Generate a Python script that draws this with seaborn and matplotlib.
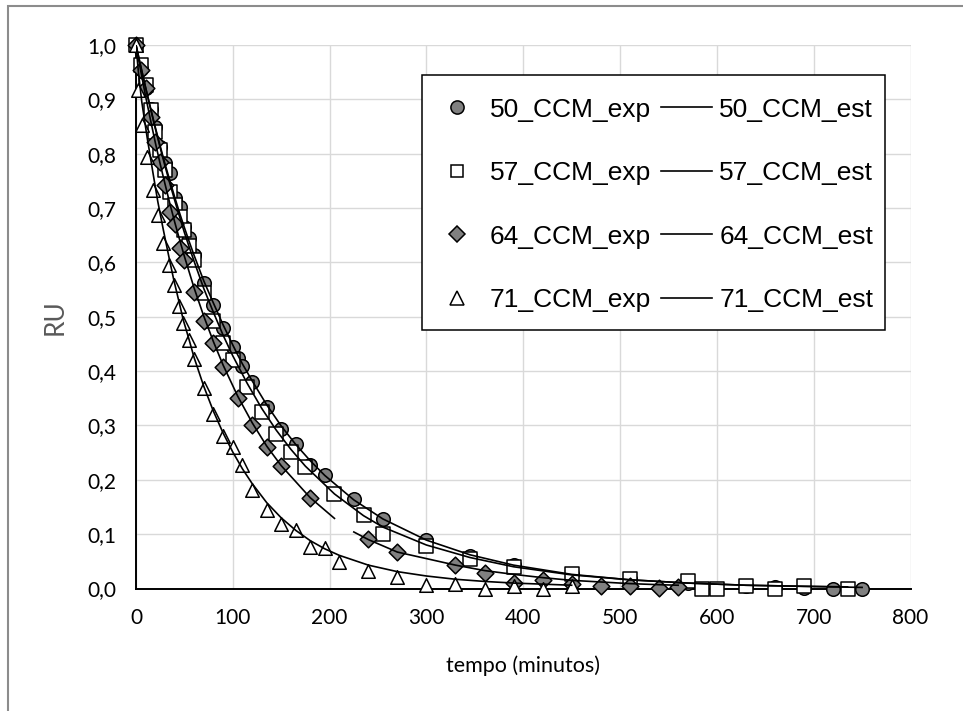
import numpy as np
import pandas as pd
import matplotlib
matplotlib.use("Agg")
import matplotlib.pyplot as plt
import seaborn as sns
from matplotlib.lines import Line2D
from matplotlib.patches import Rectangle

# ---------------- data ----------------
t50 = [0, 5, 10, 15, 20, 25, 30, 35, 40, 45, 50, 55, 60, 70, 80, 90, 100, 105, 110, 120,
       135, 150, 165, 180, 195, 225, 255, 300, 345, 390, 450, 510, 570, 630, 660, 690, 720, 750]
ru50_exp = [1.0, 0.955, 0.92, 0.883, 0.85, 0.813, 0.782, 0.764, 0.718, 0.702, 0.666, 0.644,
            0.613, 0.563, 0.521, 0.479, 0.444, 0.425, 0.409, 0.38, 0.334, 0.293, 0.265, 0.228,
            0.209, 0.164, 0.128, 0.089, 0.06, 0.043, 0.027, 0.017, 0.011, 0.004, 0.002, 0.001,
            0.0, 0.0]
ru50_est = [1.0, 0.96, 0.921, 0.884, 0.848, 0.814, 0.781, 0.75, 0.72, 0.691, 0.664, 0.638,
            0.613, 0.566, 0.525, 0.485, 0.448, 0.43, 0.413, 0.382, 0.338, 0.299, 0.265, 0.235,
            0.208, 0.163, 0.128, 0.089, 0.062, 0.043, 0.026, 0.016, 0.010, 0.006, 0.005, 0.004,
            0.003, 0.002]

t57 = [0, 5, 10, 15, 20, 25, 30, 35, 40, 45, 50, 55, 60, 70, 80, 90, 100, 115, 130, 145, 160,
       175, 205, 235, 255, 300, 345, 390, 450, 510, 570, 585, 600, 630, 660, 690, 735]
ru57_exp = [1.0, 0.963, 0.926, 0.88, 0.84, 0.807, 0.77, 0.73, 0.705, 0.684, 0.66, 0.63, 0.604,
            0.543, 0.493, 0.451, 0.42, 0.371, 0.325, 0.284, 0.251, 0.223, 0.174, 0.135, 0.10,
            0.078, 0.055, 0.04, 0.027, 0.017, 0.014, 0.0, 0.0, 0.004, 0.0, 0.004, 0.0]
ru57_est = [1.0, 0.96, 0.921, 0.883, 0.846, 0.811, 0.777, 0.745, 0.714, 0.684, 0.655, 0.628,
            0.602, 0.552, 0.508, 0.466, 0.428, 0.377, 0.331, 0.291, 0.256, 0.225, 0.174, 0.134,
            0.113, 0.08, 0.057, 0.04, 0.025, 0.016, 0.010, 0.009, 0.008, 0.006, 0.005, 0.004,
            0.003]

t64 = [0, 5, 10, 15, 20, 25, 30, 35, 40, 45, 50, 60, 70, 80, 90, 105, 120, 135, 150, 180, 240,
       270, 330, 360, 390, 420, 450, 480, 510, 540, 560]
ru64_exp = [1.0, 0.954, 0.92, 0.868, 0.822, 0.784, 0.742, 0.693, 0.671, 0.626, 0.604, 0.545,
            0.493, 0.451, 0.408, 0.35, 0.30, 0.26, 0.226, 0.167, 0.091, 0.067, 0.044, 0.028,
            0.01, 0.015, 0.008, 0.005, 0.005, 0.001, 0.002]
t64_est = [0, 5, 10, 15, 20, 25, 30, 35, 40, 45, 50, 60, 70, 80, 90, 105, 120, 135, 150, 180,
           205, 225, 240, 270, 330, 360, 390, 420, 450, 480, 510, 540, 560]
ru64_est = [1.0, 0.951, 0.905, 0.862, 0.82, 0.781, 0.744, 0.708, 0.674, 0.642, 0.611, 0.553,
            0.501, 0.454, 0.411, 0.354, 0.305, 0.262, 0.226, 0.167, 0.129, 0.104, 0.090, 0.067,
            0.043, 0.033, 0.026, 0.02, 0.015, 0.012, 0.009, 0.007, 0.006]
seg64_est = [0] * 21 + [1] * 12

t71 = [0, 2.5, 6, 11.5, 17.5, 22.5, 28, 34, 39, 44.5, 49, 54.5, 60, 70, 80, 90, 100, 110, 120,
       135, 150, 165, 180, 195, 210, 240, 270, 300, 330, 360, 390, 420, 450]
ru71_exp = [1.0, 0.917, 0.853, 0.794, 0.733, 0.687, 0.636, 0.596, 0.558, 0.52, 0.488, 0.457,
            0.423, 0.368, 0.321, 0.28, 0.26, 0.227, 0.181, 0.144, 0.118, 0.108, 0.076, 0.074,
            0.049, 0.032, 0.022, 0.007, 0.009, 0.0, 0.004, 0.0, 0.004]
ru71_est = [1.0, 0.95, 0.895, 0.83, 0.765, 0.712, 0.662, 0.61, 0.568, 0.527, 0.493, 0.46,
            0.425, 0.372, 0.326, 0.286, 0.251, 0.22, 0.193, 0.158, 0.13, 0.107, 0.088, 0.073,
            0.061, 0.043, 0.031, 0.023, 0.017, 0.013, 0.01, 0.008, 0.006]

exp_labels = ["50_CCM_exp", "57_CCM_exp", "64_CCM_exp", "71_CCM_exp"]
est_labels = ["50_CCM_est", "57_CCM_est", "64_CCM_est", "71_CCM_est"]
x_ticks = [0, 100, 200, 300, 400, 500, 600, 700, 800]
y_ticks = [0.0, 0.1, 0.2, 0.3, 0.4, 0.5, 0.6, 0.7, 0.8, 0.9, 1.0]
y_ticklabels = ["0,0", "0,1", "0,2", "0,3", "0,4", "0,5", "0,6", "0,7", "0,8", "0,9", "1,0"]

# ---------------- figure ----------------
W, H = 963, 711
fig = plt.figure(figsize=(W / 100, H / 100), dpi=100)
ax = fig.add_axes([136 / W, 1 - 588.5 / H, (910.5 - 136) / W, (588.5 - 45) / H])

GREY = "#808080"
exp_sets = [
    (t50, ru50_exp, "o", GREY, 95),
    (t57, ru57_exp, "s", "white", 90),
    (t64, ru64_exp, "D", GREY, 72),
    (t71, ru71_exp, "^", "white", 95),
]
for t, v, m, fc, s in exp_sets:
    df = pd.DataFrame({"t": t, "ru": v})
    sns.scatterplot(data=df, x="t", y="ru", marker=m, s=s, color=fc, edgecolor="black",
                    linewidth=1.1, ax=ax, legend=False, zorder=3, clip_on=False)

est_sets = [
    (t50, ru50_est, [0] * len(t50)),
    (t57, ru57_est, [0] * len(t57)),
    (t64_est, ru64_est, seg64_est),
    (t71, ru71_est, [0] * len(t71)),
]
for t, v, seg in est_sets:
    df = pd.DataFrame({"t": t, "ru": v, "seg": seg})
    sns.lineplot(data=df, x="t", y="ru", units="seg", estimator=None, sort=False,
                 color="black", linewidth=1.2, ax=ax, legend=False, zorder=4)

ax.set_xlim(0, 800)
ax.set_ylim(0, 1.0)
ax.set_xticks(x_ticks)
ax.set_yticks(y_ticks)
ax.set_yticklabels(y_ticklabels)
ax.grid(True, color="#d9d9d9", linewidth=1.0, zorder=0)
ax.set_axisbelow(True)
for sp in ["top", "right"]:
    ax.spines[sp].set_visible(False)
for sp in ["left", "bottom"]:
    ax.spines[sp].set_color("black")
    ax.spines[sp].set_linewidth(1.4)
    ax.spines[sp].set_zorder(2.5)

tick_family = ["Lato", "DejaVu Sans"]
ax.tick_params(axis="both", length=0, colors="black")
ax.tick_params(axis="y", pad=14)
ax.tick_params(axis="x", pad=14)
for lab in ax.get_xticklabels() + ax.get_yticklabels():
    lab.set_fontfamily(tick_family)
    lab.set_fontsize(15)

ax.set_xlabel("tempo (minutos)", fontsize=15.5, family=tick_family,
              color="black", labelpad=20)
ax.set_ylabel("RU", fontsize=19, family=tick_family, color="#595959",
              labelpad=14)

# ---------------- legend ----------------
handles = [
    Line2D([], [], ls="none", marker="o", ms=9.5, mfc=GREY, mec="black", mew=1.1),
    Line2D([], [], ls="none", marker="s", ms=9.0, mfc="white", mec="black", mew=1.1),
    Line2D([], [], ls="none", marker="D", ms=8.0, mfc=GREY, mec="black", mew=1.1),
    Line2D([], [], ls="none", marker="^", ms=9.5, mfc="white", mec="black", mew=1.1),
] + [Line2D([], [], color="black", lw=1.2) for _ in range(4)]
leg = ax.legend(handles, exp_labels + est_labels, ncol=2, loc="upper left",
                bbox_to_anchor=(417 / W, 1 - 83 / H), bbox_transform=fig.transFigure,
                prop=dict(family=["Liberation Sans", "DejaVu Sans"], size=19),
                frameon=False, borderpad=0.55, labelspacing=1.5, handlelength=1.9,
                handletextpad=0.3, columnspacing=0.4, borderaxespad=0)
leg.set_zorder(10)

# legend frame drawn as a patch behind the legend entries
frame = Rectangle((422 / W, 1 - 330 / H), (885 - 422) / W, (330 - 75) / H,
                  transform=fig.transFigure, facecolor="white", edgecolor="black",
                  linewidth=1.1, zorder=9)
ax.add_artist(frame)
frame.set_clip_on(False)

# outer chart border
fig.patches.append(Rectangle((8 / W, -0.05), 1.2, (711 - 6) / H + 0.05,
                             transform=fig.transFigure, fill=False,
                             edgecolor="#8c8c8c", linewidth=1.5))

fig.savefig("out.png", dpi=100)
